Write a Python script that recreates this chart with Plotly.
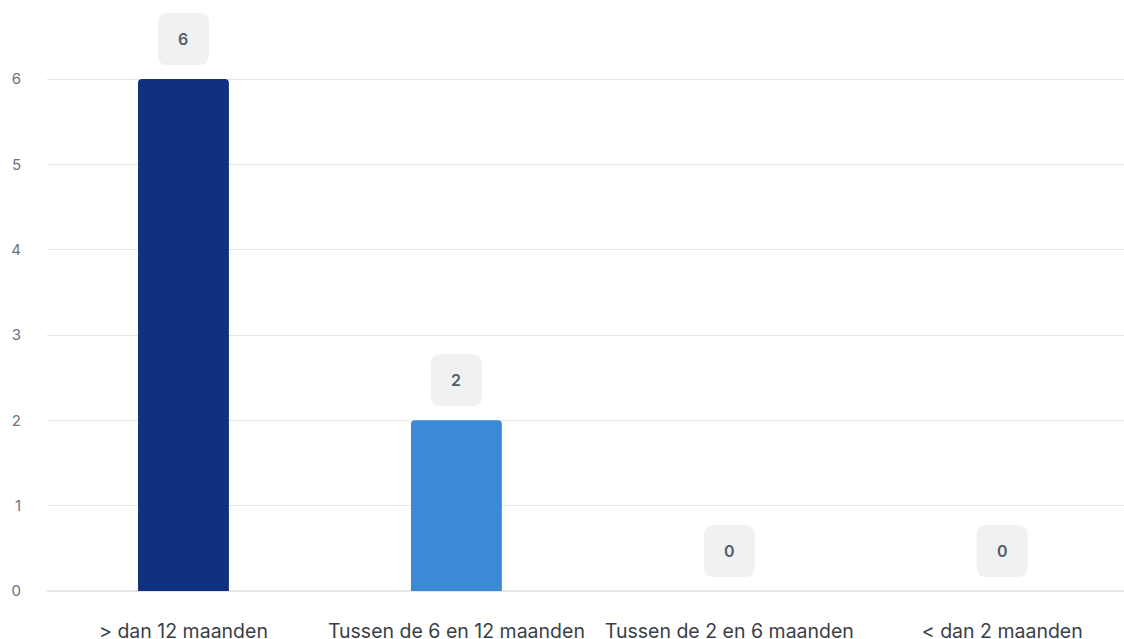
import plotly.graph_objects as go

categories = ["> dan 12 maanden", "Tussen de 6 en 12 maanden", "Tussen de 2 en 6 maanden", "< dan 2 maanden"]
values = [6, 2, 0, 0]
bar_colors = ["#11307f", "#3a8ad6", "#3a8ad6", "#3a8ad6"]
y_ticks = [0, 1, 2, 3, 4, 5, 6]

fig = go.Figure()
fig.add_trace(go.Bar(
    x=list(range(len(categories))), y=values,
    marker=dict(color=bar_colors, cornerradius=4, line=dict(width=0)),
    width=0.333, hoverinfo="skip",
))


def label_box(w, h, r, off):
    x0, x1 = -w / 2, w / 2
    y0, y1 = off - h / 2, off + h / 2
    return (f"M{x0+r},{y0} L{x1-r},{y0} Q{x1},{y0} {x1},{y0+r} "
            f"L{x1},{y1-r} Q{x1},{y1} {x1-r},{y1} L{x0+r},{y1} "
            f"Q{x0},{y1} {x0},{y1-r} L{x0},{y0+r} Q{x0},{y0} {x0+r},{y0} Z")


shapes = []
annotations = []
for i, v in enumerate(values):
    shapes.append(dict(
        type="path", xref="x", yref="y", xsizemode="pixel", ysizemode="pixel",
        xanchor=i, yanchor=v, path=label_box(51, 52, 10, 40),
        fillcolor="#f0f1f2", line=dict(width=0), layer="above",
    ))
    annotations.append(dict(
        x=i, y=v, xref="x", yref="y", text=str(v), showarrow=False,
        yshift=40, font=dict(family="Inter", size=16, color="#555b66", weight=600),
    ))

fig.update_layout(
    width=1124, height=639,
    margin=dict(l=47, r=0, t=0, b=48),
    paper_bgcolor="white", plot_bgcolor="white",
    showlegend=False,
    shapes=shapes, annotations=annotations,
    font=dict(family="Inter", color="#444"),
    xaxis=dict(
        range=[-0.5, 3.446], tickvals=list(range(len(categories))), ticktext=categories,
        showgrid=False, zeroline=False, showline=False, ticks="",
        tickfont=dict(family="Inter", size=19.5, color="#3a3f47"),
        ticklabelstandoff=26, automargin=False,
    ),
    yaxis=dict(
        range=[0, 6.926], tickvals=y_ticks, showgrid=True, gridcolor="#e6e6e6", gridwidth=1,
        zeroline=True, zerolinecolor="#e6e6e6", zerolinewidth=1.5, showline=False, ticks="",
        tickfont=dict(family="Inter", size=15, color="#6b7280"),
        ticklabelstandoff=25, automargin=False,
    ),
)

fig.write_html(
    "out.html",
    config={"displayModeBar": False},
    post_script="document.body.style.margin='0';document.body.style.padding='0';",
)
